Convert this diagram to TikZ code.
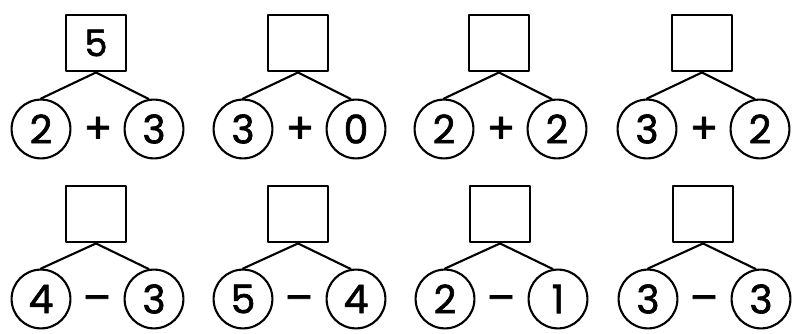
\documentclass[tikz,border=0pt]{standalone}
\usepackage{fontspec}
\setmainfont{Poppins}[FakeBold=1.6]
\usetikzlibrary{positioning}

\begin{document}
\begin{tikzpicture}[
  x=0.025cm, y=-0.025cm, line width=1.5pt, line cap=round, line join=round,
  box/.style={draw, minimum width=1.5cm, minimum height=1.42cm, inner sep=0pt,
              font=\fontsize{26}{26}\selectfont},
  num/.style={draw, circle, minimum size=1.47cm, inner sep=0pt,
              font=\fontsize{28}{28}\selectfont},
  sgn/.style={font=\fontsize{30}{30}\selectfont}]

\useasboundingbox (0,0) rectangle (798,334);

% ---------------------------------------------------------------- row 1: sums
\foreach \i/\cx/\a/\b/\ans in {1/96/2/3/5, 2/298/3/0/, 3/499/2/2/, 4/702/3/2/} {
  \node[box] (sq\i) at (\cx,43) {\ans};
  \node[num] (l\i) at ({\cx-55},129) {\a};
  \node[num] (r\i) at ({\cx+58},129) {\b};
  \node[sgn] (op\i) at ({\cx+2},130) {+};
  \draw (sq\i.south) -- (l\i.north);
  \draw (sq\i.south) -- (r\i.100);
}

% ---------------------------------------------------------------- row 2: differences
\foreach \i/\cx/\a/\b in {5/96/4/3, 6/298/5/4, 7/500/2/1, 8/703/3/3} {
  \node[box] (sq\i) at (\cx,214) {};
  \node[num] (l\i) at ({\cx-55},299) {\a};
  \node[num] (r\i) at ({\cx+58},299) {\b};
  \node[sgn] (op\i) at ({\cx+1},304) {–};
  \draw (sq\i.south) -- (l\i.north);
  \draw (sq\i.south) -- (r\i.100);
}

\end{tikzpicture}
\end{document}
